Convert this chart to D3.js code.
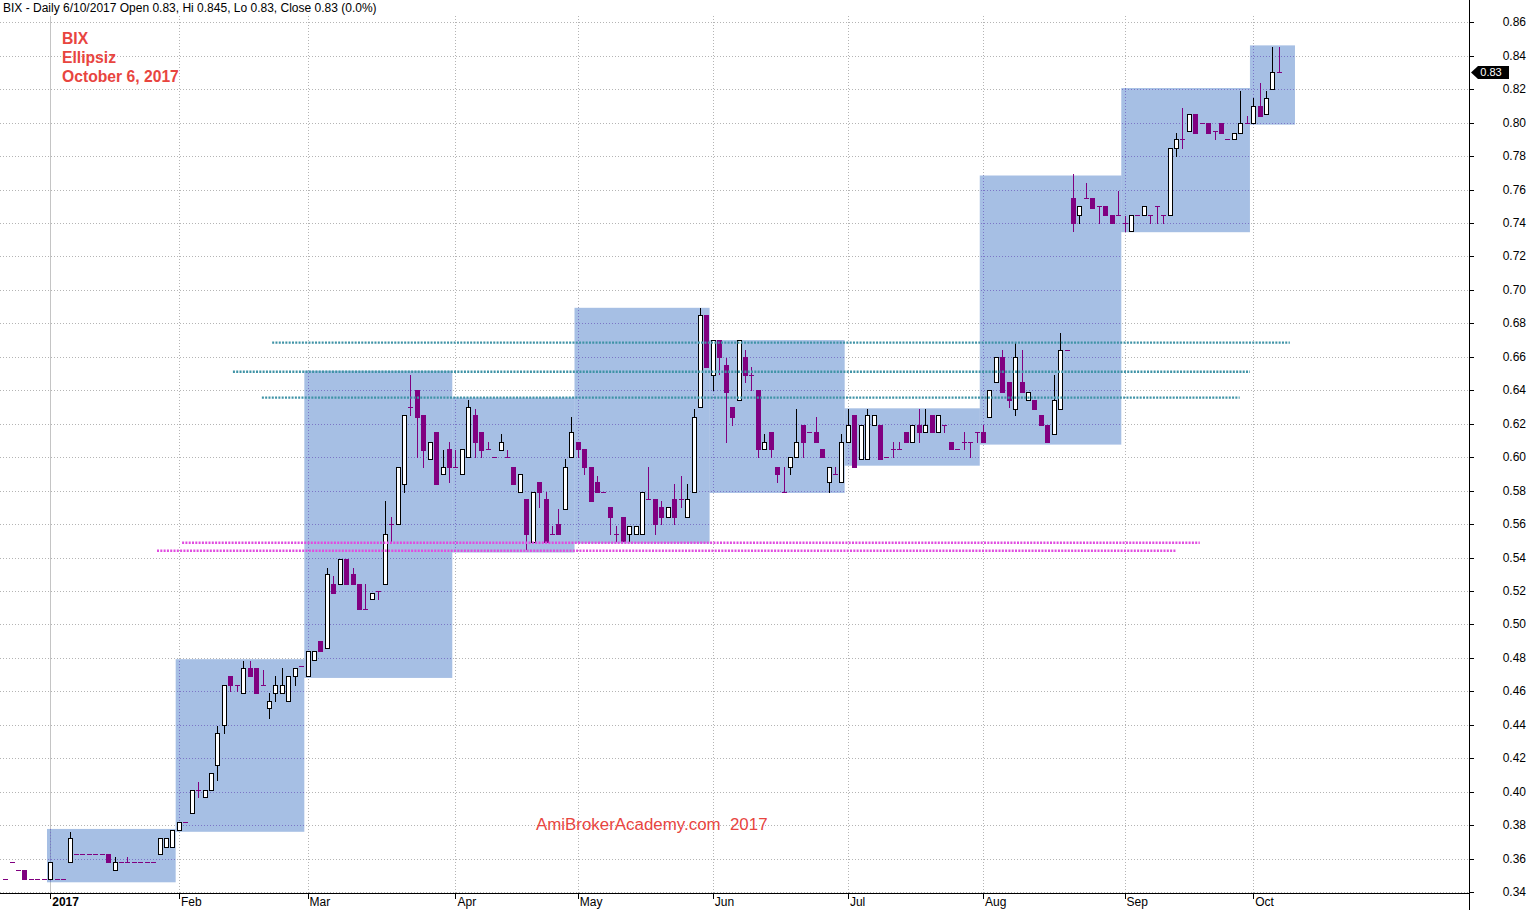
<!DOCTYPE html>
<html><head><meta charset="utf-8">
<script src="https://cdn.jsdelivr.net/npm/d3@7"></script>
<style>
html,body{margin:0;padding:0;background:#fff;overflow:hidden;}
svg{display:block;font-family:Arial,"Liberation Sans",sans-serif;}
</style></head><body>
<svg id="chart" width="1529" height="910"></svg>
<script>
// ---- Daily OHLC (index 0 = 21 Dec 2016 ... index 198 = 6 Oct 2017) ----
const opens = [
.348,.358,.353,.353,.348,.348,.348,.348,.348,.348,
.358,.363,.363,.363,.363,.363,.363,.353,.358,.358,
.358,.358,.358,.358,.363,.367,.367,.377,.382,.387,
.401,.397,.401,.416,.440,.469,.464,.459,.474,.474,
.464,.450,.459,.459,.454,.469,.475,.469,.479,.490,
.486,.524,.524,.539,.530,.524,.509,.515,.520,.524,
.560,.560,.584,.630,.640,.625,.599,.615,.590,.605,
.594,.590,.600,.625,.615,.605,.600,.604,.600,.594,
.579,.575,.549,.585,.575,.554,.560,.569,.600,.609,
.605,.594,.585,.579,.570,.554,.564,.554,.554,.554,
.575,.575,.570,.564,.575,.575,.564,.579,.630,.685,
.649,.670,.655,.630,.634,.660,.649,.640,.605,.615,
.594,.579,.594,.600,.619,.615,.615,.605,.585,.590,
.585,.609,.625,.599,.599,.619,.619,.600,.605,.605,
.615,.609,.619,.615,.625,.615,.619,.609,.605,.609,
.609,.615,.615,.624,.645,.660,.645,.629,.645,.634,
.634,.625,.619,.614,.629,.664,.755,.745,.755,.755,
.750,.750,.745,.745,.740,.735,.745,.745,.745,.750,
.745,.745,.785,.790,.795,.805,.800,.800,.795,.800,
.790,.790,.794,.800,.800,.810,.805,.820,.830];
const highs = [
.348,.358,.353,.353,.348,.348,.348,.358,.348,.348,
.376,.363,.363,.363,.363,.363,.363,.361,.358,.361,
.358,.358,.358,.358,.372,.372,.377,.382,.382,.401,
.406,.401,.411,.439,.464,.469,.464,.478,.478,.474,
.473,.459,.469,.474,.469,.474,.475,.484,.484,.490,
.534,.529,.539,.539,.534,.524,.524,.519,.520,.574,
.564,.594,.625,.649,.640,.625,.609,.615,.604,.609,
.604,.605,.634,.629,.615,.609,.600,.614,.604,.594,
.590,.575,.579,.585,.579,.559,.569,.599,.624,.609,
.605,.594,.589,.579,.570,.559,.564,.559,.559,.579,
.594,.575,.574,.570,.584,.589,.584,.629,.689,.685,
.670,.670,.659,.630,.670,.664,.654,.640,.614,.615,
.594,.594,.600,.629,.619,.615,.624,.605,.594,.594,
.614,.629,.625,.619,.629,.625,.619,.600,.609,.609,
.615,.619,.629,.629,.625,.625,.619,.609,.605,.615,
.609,.615,.619,.640,.660,.664,.645,.669,.664,.639,
.634,.625,.619,.649,.674,.664,.769,.750,.764,.755,
.750,.750,.745,.759,.744,.745,.745,.750,.745,.750,
.745,.785,.794,.809,.805,.805,.800,.800,.795,.800,
.790,.794,.819,.804,.815,.824,.819,.845,.845];
const lows = [
.348,.358,.353,.348,.348,.348,.348,.348,.348,.348,
.358,.363,.363,.363,.363,.363,.358,.353,.358,.358,
.358,.358,.358,.358,.363,.367,.367,.377,.382,.387,
.397,.397,.401,.407,.435,.460,.460,.459,.469,.459,
.464,.444,.454,.459,.454,.464,.475,.469,.479,.484,
.486,.519,.524,.524,.524,.509,.509,.515,.515,.524,
.550,.560,.579,.625,.600,.594,.599,.584,.590,.585,
.594,.590,.600,.600,.600,.605,.600,.604,.600,.584,
.579,.545,.549,.570,.549,.554,.554,.569,.600,.600,
.590,.574,.579,.579,.554,.550,.550,.550,.554,.554,
.575,.554,.560,.564,.560,.570,.564,.579,.630,.654,
.640,.650,.609,.619,.634,.645,.640,.600,.605,.600,
.585,.579,.590,.600,.600,.615,.609,.600,.579,.590,
.585,.609,.594,.599,.599,.619,.599,.600,.600,.605,
.609,.609,.609,.615,.615,.615,.615,.605,.605,.605,
.600,.609,.609,.624,.645,.639,.630,.625,.639,.634,
.629,.619,.609,.614,.629,.664,.735,.740,.755,.749,
.740,.745,.740,.745,.735,.735,.745,.745,.740,.740,
.740,.745,.780,.785,.795,.794,.800,.794,.790,.794,
.790,.790,.794,.800,.800,.804,.805,.820,.830];
const closes = [
.348,.358,.353,.348,.348,.348,.348,.358,.348,.348,
.372,.363,.363,.363,.363,.363,.358,.358,.358,.358,
.358,.358,.358,.358,.372,.372,.377,.382,.382,.401,
.401,.401,.411,.435,.464,.464,.464,.474,.469,.459,
.464,.454,.464,.464,.469,.474,.475,.484,.484,.484,
.530,.519,.539,.524,.524,.509,.509,.519,.520,.554,
.560,.594,.625,.630,.624,.604,.609,.584,.594,.594,
.594,.605,.630,.609,.604,.605,.600,.609,.600,.584,
.590,.554,.579,.579,.549,.554,.554,.594,.615,.605,
.594,.574,.579,.579,.564,.554,.550,.559,.559,.579,
.575,.560,.564,.570,.564,.575,.575,.624,.685,.654,
.670,.660,.639,.624,.670,.649,.649,.605,.609,.605,
.590,.579,.600,.609,.609,.615,.609,.600,.594,.590,
.609,.619,.594,.619,.625,.625,.599,.600,.605,.605,
.609,.619,.615,.619,.615,.625,.619,.605,.605,.609,
.609,.615,.609,.640,.660,.639,.634,.660,.639,.639,
.629,.619,.609,.634,.664,.664,.740,.750,.755,.749,
.750,.745,.740,.745,.740,.745,.745,.750,.745,.750,
.745,.785,.790,.790,.805,.794,.800,.794,.795,.794,
.790,.794,.800,.800,.810,.804,.815,.830,.830];

// ---- Axis categories / ticks ----
const monthLabels = ["2017","Feb","Mar","Apr","May","Jun","Jul","Aug","Sep","Oct"];
const monthStartIdx = [7,27,47,70,89,110,131,152,174,194];
const yTickLabels = ["0.34","0.36","0.38","0.40","0.42","0.44","0.46","0.48","0.50","0.52","0.54","0.56","0.58","0.60","0.62","0.64","0.66","0.68","0.70","0.72","0.74","0.76","0.78","0.80","0.82","0.84","0.86"];

// ---- Monthly range boxes ----
const boxStart = [7,27,47,70,89,110,131,152,174,194];
const boxEnd   = [26,46,69,88,109,130,151,173,193,200];
const boxHigh  = [.3777,.4792,.6517,.6356,.6893,.670,.6292,.7684,.8207,.8462];
const boxLow   = [.3458,.376,.468,.543,.5484,.5786,.5949,.6075,.7345,.7988];

// ---- Horizontal dotted levels ----
const levelValue = [.6685,.6511,.6356,.5488,.544];
const levelStart = [41.5,35.4,39.9,27.5,23.6];
const levelEnd   = [199.7,193.5,191.9,185.7,182.0];
const levelKind  = ["teal","teal","teal","magenta","magenta"];

const lastPrice = 0.83;

const svg = d3.select("#chart");
const W = 1529, H = 910, axisX = 1469, axisY = 893;
const x = d3.scaleLinear().domain([0,198]).range([5.2,1278.9]);
const y = d3.scaleLinear().domain([0.34,0.86]).range([892,22.3]);
const step = x(1)-x(0);
const yTickVals = yTickLabels.map(Number);
const px = v => Math.round(v)+0.5;

const defs = svg.append("defs");
defs.append("filter").attr("id","blur").attr("x","-5%").attr("y","-300%").attr("width","110%").attr("height","700%")
  .append("feGaussianBlur").attr("stdDeviation",2.4);
const clip = defs.append("clipPath").attr("id","boxclip");
boxStart.forEach((s,k)=>{
  clip.append("rect").attr("x",x(s)-step/2).attr("width",x(boxEnd[k])-x(s)+step)
    .attr("y",y(boxHigh[k])).attr("height",y(boxLow[k])-y(boxHigh[k]));
});
defs.append("clipPath").attr("id","plotclip").append("rect").attr("x",0).attr("y",14).attr("width",axisX).attr("height",axisY-14);

function drawGrid(g,color,solidFirst){
  g.selectAll(".hg").data(yTickVals).join("line")
    .attr("x1",0).attr("x2",axisX).attr("y1",d=>px(y(d))).attr("y2",d=>px(y(d)))
    .attr("stroke",color).attr("stroke-dasharray","1,2");
  g.selectAll(".vg").data(monthStartIdx).join("line")
    .attr("x1",d=>px(x(d))).attr("x2",d=>px(x(d))).attr("y1",16).attr("y2",axisY)
    .attr("stroke",(d,i)=> (i===0 && solidFirst) ? "#c4c4c4" : color)
    .attr("stroke-dasharray",(d,i)=> (i===0 && solidFirst) ? null : "1,2");
}
drawGrid(svg.append("g"),"#b4b4b4",true);

// boxes
svg.append("g").selectAll("rect").data(boxStart).join("rect")
  .attr("x",(s)=>x(s)-step/2).attr("width",(s,k)=>x(boxEnd[k])-x(s)+step)
  .attr("y",(s,k)=>y(boxHigh[k])).attr("height",(s,k)=>y(boxLow[k])-y(boxHigh[k]))
  .attr("fill","rgb(40,100,190)").attr("fill-opacity",0.41);
drawGrid(svg.append("g").attr("clip-path","url(#boxclip)"),"#7b76c6",false);

// candles
const idx = d3.range(opens.length);
const cg = svg.append("g").attr("clip-path","url(#plotclip)");
const PURPLE = "#800080";
idx.forEach(i=>{
  const o=opens[i],h=highs[i],l=lows[i],c=closes[i];
  const up = c>o;
  const cx = Math.round(x(i));
  const col = up ? "#000" : PURPLE;
  if (h>l) cg.append("line").attr("x1",cx+0.5).attr("x2",cx+0.5)
      .attr("y1",Math.round(y(h))).attr("y2",Math.round(y(l))+1).attr("stroke",col).attr("stroke-width",1);
  const yt = Math.round(y(Math.max(o,c))), yb = Math.round(y(Math.min(o,c)));
  if (up) {
    cg.append("rect").attr("x",cx-2+0.5).attr("y",yt+0.5).attr("width",4).attr("height",Math.max(1,yb-yt))
      .attr("fill","#fff").attr("stroke","#000").attr("stroke-width",1);
  } else if (yb-yt>=1) {
    cg.append("rect").attr("x",cx-2).attr("y",yt).attr("width",5).attr("height",yb-yt+1).attr("fill",PURPLE);
  } else {
    cg.append("line").attr("x1",cx-2).attr("x2",cx+3).attr("y1",yt+0.5).attr("y2",yt+0.5)
      .attr("stroke",PURPLE).attr("stroke-width",1);
  }
});

// level lines
const lg = svg.append("g");
levelValue.forEach((v,k)=>{
  const teal = levelKind[k]==="teal";
  lg.append("line").attr("x1",x(levelStart[k])).attr("x2",x(levelEnd[k])).attr("y1",y(v)+1.5).attr("y2",y(v)+1.5)
    .attr("stroke",teal?"#6a6a6a":"#b8b8b8").attr("stroke-width",teal?6:5).attr("opacity",teal?0.6:0.5).attr("filter","url(#blur)");
  lg.append("line").attr("x1",x(levelStart[k])).attr("x2",x(levelEnd[k])).attr("y1",y(v)).attr("y2",y(v))
    .attr("stroke",teal?"#3f93a6":"#e04ce0").attr("stroke-width",2.4).attr("stroke-dasharray","2,1.3");
});

// axes
const ax = svg.append("g");
ax.append("line").attr("x1",axisX+0.5).attr("x2",axisX+0.5).attr("y1",0).attr("y2",H).attr("stroke","#000");
ax.append("line").attr("x1",0).attr("x2",axisX).attr("y1",axisY+0.5).attr("y2",axisY+0.5).attr("stroke","#000");
ax.selectAll(".yt").data(yTickVals).join("line")
  .attr("x1",axisX).attr("x2",axisX+5).attr("y1",d=>px(y(d))).attr("y2",d=>px(y(d))).attr("stroke","#000");
ax.selectAll(".yl").data(yTickLabels).join("text")
  .attr("x",1526).attr("y",(d,i)=>y(yTickVals[i])+4).attr("text-anchor","end")
  .attr("font-size",12).attr("fill","#000").text(d=>d);
ax.selectAll(".xt").data(monthStartIdx).join("line")
  .attr("x1",d=>px(x(d))).attr("x2",d=>px(x(d))).attr("y1",axisY).attr("y2",axisY+6).attr("stroke","#000");
ax.selectAll(".xl").data(monthLabels).join("text")
  .attr("x",(d,i)=>x(monthStartIdx[i])+2).attr("y",906).attr("font-size",12)
  .attr("font-weight",(d,i)=>i===0?"bold":"normal").attr("fill","#000").text(d=>d);

// last price marker
const ly = y(lastPrice);
ax.append("path").attr("d",`M${axisX+2},${ly} L${axisX+9},${ly-6.5} L${1509},${ly-6.5} L${1509},${ly+6.5} L${axisX+9},${ly+6.5} Z`).attr("fill","#000");
ax.append("text").attr("x",1491).attr("y",ly+4).attr("text-anchor","middle").attr("font-size",11).attr("fill","#fff").text(lastPrice.toFixed(2));

// texts
svg.append("text").attr("x",3).attr("y",11.5).attr("font-size",12).attr("fill","#000")
  .text("BIX - Daily 6/10/2017 Open 0.83, Hi 0.845, Lo 0.83, Close 0.83 (0.0%)");
const RED = "#e8453f";
["BIX","Ellipsiz","October 6, 2017"].forEach((t,k)=>{
  svg.append("text").attr("x",62).attr("y",44+k*19).attr("font-size",15.7).attr("font-weight","bold").attr("fill",RED).text(t);
});
svg.append("text").attr("x",536).attr("y",830).attr("font-size",16.9).attr("fill",RED)
  .attr("xml:space","preserve").style("white-space","pre").text("AmiBrokerAcademy.com  2017");
</script>
</body></html>
